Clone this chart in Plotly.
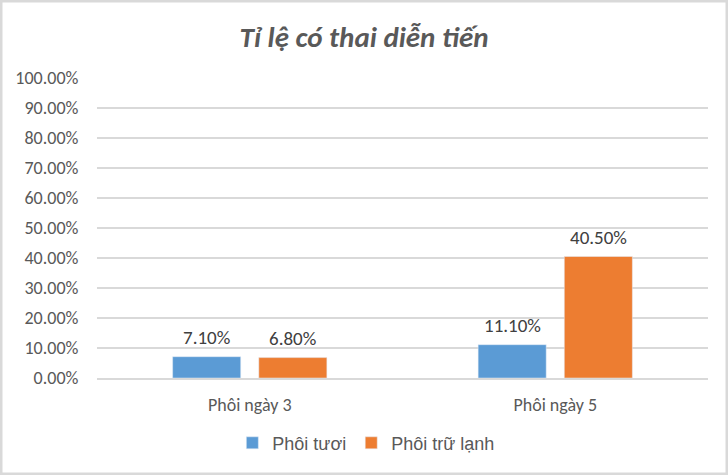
import plotly.graph_objects as go

# Data
categories = ["Phôi ngày 3", "Phôi ngày 5"]
fresh = [0.071, 0.111]
frozen = [0.068, 0.405]
series_names = ["Phôi tươi", "Phôi trữ lạnh"]
colors = ["#5B9BD5", "#ED7D31"]

font_axis = "Carlito, Lato, Roboto, Arial"

fig = go.Figure()
for name, vals, col in zip(series_names, [fresh, frozen], colors):
    fig.add_trace(go.Bar(x=categories, y=vals, name=name, marker_color=col))

# data labels, placed above each bar (bar slot is ~86px wide)
for vals, shift in [(fresh, -43), (frozen, 43)]:
    for cat, v in zip(categories, vals):
        fig.add_annotation(
            x=cat, y=v, text=f"{v:.2%}", showarrow=False,
            xshift=shift, yshift=6, yanchor="bottom",
            font=dict(size=19, color="#404040", family=font_axis),
        )

fig.update_layout(
    width=728, height=475,
    margin=dict(l=97, r=20, t=78, b=97),
    paper_bgcolor="white", plot_bgcolor="white",
    barmode="group", bargap=0.436, bargroupgap=0.21,
    title=dict(
        text="<b><i>Tỉ lệ có thai diễn tiến</i></b>",
        x=0.5, xanchor="center", y=0.922, yanchor="middle",
        font=dict(size=29, color="#595959", family=font_axis),
    ),
    legend=dict(
        orientation="h", x=0.44, xanchor="center", y=-0.217, yanchor="middle",
        font=dict(size=18, color="#595959", family="Liberation Sans, Arial"),
        itemwidth=30, traceorder="normal",
    ),
)

fig.update_yaxes(
    range=[0, 1], dtick=0.1, tickformat=".2%",
    showgrid=True, gridcolor="#D9D9D9", gridwidth=1.5,
    zeroline=False, showline=False,
    ticks="outside", ticklen=14, tickcolor="rgba(0,0,0,0)",
    tickfont=dict(size=18, color="#595959", family=font_axis),
)
fig.update_xaxes(
    showline=True, linecolor="#D9D9D9", linewidth=1.5,
    ticks="outside", ticklen=10, tickcolor="rgba(0,0,0,0)",
    tickfont=dict(size=18, color="#595959", family=font_axis),
)

# light grey frame round the chart
fig.add_shape(type="rect", xref="paper", yref="paper",
              x0=-96/611, x1=1 + 19/611, y0=-96/300, y1=1 + 77/300,
              line=dict(color="#D9D9D9", width=3))

fig.write_html("out.html", config={"displayModeBar": False},
               post_script="document.body.style.margin='0';document.body.style.overflow='hidden';")
